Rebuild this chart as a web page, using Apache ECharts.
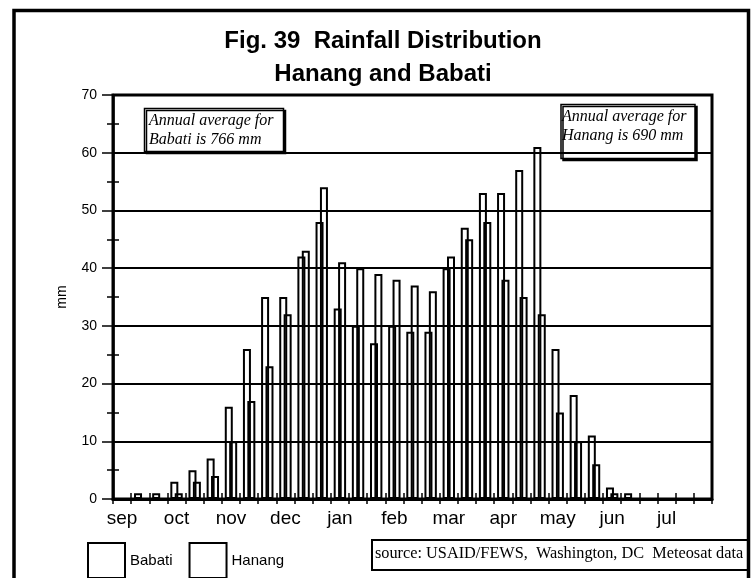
<!DOCTYPE html>
<html>
<head>
<meta charset="utf-8">
<title>Fig. 39 Rainfall Distribution</title>
<script src="https://cdn.jsdelivr.net/npm/echarts@6/dist/echarts.min.js"></script>
<style>
  html, body { margin: 0; padding: 0; background: #fff; }
  #chart { width: 751px; height: 578px; }
</style>
</head>
<body>
<div id="chart"></div>
<script>
// months shown on the x axis, each split into three dekads
const months = ['sep', 'oct', 'nov', 'dec', 'jan', 'feb', 'mar', 'apr', 'may', 'jun', 'jul']
const dekads = months.flatMap(m => [m + '-1', m + '-2', m + '-3'])

// dekadal rainfall (mm)
const babati = [0, 1, 1, 3, 5, 7, 16, 26, 35, 35, 42, 48, 33, 30, 27, 30, 29, 29,
  40, 47, 53, 53, 57, 61, 26, 18, 11, 2, 1, 0, 0, 0, 0]
const hanang = [0, 0, 0, 1, 3, 4, 10, 17, 23, 32, 43, 54, 41, 40, 39, 38, 37, 36,
  42, 45, 48, 38, 35, 32, 15, 10, 6, 1, 0, 0, 0, 0, 0]

const yTicks = [0, 10, 20, 30, 40, 50, 60, 70]

const sans = 'Liberation Sans, Arial, sans-serif'
const serif = 'Liberation Serif, Times New Roman, serif'

const chart = echarts.init(document.getElementById('chart'))

// note box with a hard drop shadow
function noteBox(x, y, w, h, lines, tx, ty) {
  return {
    type: 'group',
    children: [
      {
        type: 'rect',
        shape: { x: x, y: y, width: w, height: h },
        style: { fill: '#fff', stroke: '#000', lineWidth: 1.5, shadowColor: '#000', shadowOffsetX: 2, shadowOffsetY: 2, shadowBlur: 0 }
      },
      {
        type: 'text',
        x: tx,
        y: ty,
        style: {
          text: lines.join('\n'),
          font: 'italic 16px ' + serif,
          lineHeight: 19,
          fill: '#000'
        }
      }
    ]
  }
}

const barStyle = {
  color: 'rgba(255,255,255,0)',
  borderColor: '#000',
  borderWidth: 2
}

const options = {
  animation: false,
  backgroundColor: '#fff',
  title: {
    text: 'Fig. 39  Rainfall Distribution\nHanang and Babati',
    left: 378,
    top: 20,
    textAlign: 'center',
    textStyle: {
      fontFamily: sans,
      fontWeight: 'bold',
      fontSize: 24,
      lineHeight: 33,
      color: '#000'
    }
  },
  legend: {
    data: ['Babati', 'Hanang'],
    left: 82,
    top: 537,
    itemWidth: 37,
    itemHeight: 35,
    itemGap: 16,
    icon: 'rect',
    itemStyle: { color: '#fff', borderColor: '#000', borderWidth: 2 },
    textStyle: { fontFamily: sans, fontSize: 15, color: '#000' }
  },
  grid: {
    left: 113,
    right: 39,
    top: 95,
    bottom: 79,
    show: true,
    borderColor: '#000',
    borderWidth: 3
  },
  xAxis: [
    {
      type: 'category',
      data: dekads,
      boundaryGap: true,
      position: 'bottom',
      axisLine: { lineStyle: { color: '#000', width: 3 } },
      axisTick: { show: true, interval: 0, length: 5, lineStyle: { color: '#000', width: 1.5 } },
      axisLabel: {
        interval: 2,
        margin: 10,
        color: '#000',
        fontFamily: sans,
        fontSize: 19,
        formatter: v => v.split('-')[0]
      }
    },
    {
      // second axis only for the ticks pointing up into the plot
      type: 'category',
      data: dekads,
      boundaryGap: true,
      position: 'bottom',
      axisLine: { show: false },
      axisTick: { show: true, inside: true, interval: 0, length: 6, lineStyle: { color: '#000', width: 1.5 } },
      axisLabel: { show: false },
      splitLine: { show: false }
    }
  ],
  yAxis: [
    {
      type: 'value',
      min: yTicks[0],
      max: yTicks[yTicks.length - 1],
      interval: 10,
      name: 'mm',
      nameLocation: 'middle',
      nameGap: 44,
      nameTextStyle: { fontFamily: sans, fontSize: 14, color: '#000' },
      axisLine: { show: true, lineStyle: { color: '#000', width: 2.5 } },
      axisTick: { show: true, length: 11, lineStyle: { color: '#000', width: 1.5 } },
      minorTick: { show: true, splitNumber: 2, length: 6, lineStyle: { color: '#000', width: 1.5 } },
      axisLabel: { margin: 16, color: '#000', fontFamily: sans, fontSize: 14 },
      splitLine: { show: true, lineStyle: { color: '#000', width: 2 } }
    },
    {
      // minor ticks crossing the axis to the inside
      type: 'value',
      min: yTicks[0],
      max: yTicks[yTicks.length - 1],
      interval: 10,
      position: 'left',
      axisLine: { show: false },
      axisTick: { show: false, inside: true },
      minorTick: { show: true, splitNumber: 2, length: 6, lineStyle: { color: '#000', width: 1.5 } },
      axisLabel: { show: false },
      splitLine: { show: false }
    }
  ],
  series: [
    {
      name: 'Babati',
      type: 'bar',
      data: babati,
      barWidth: 8,
      barGap: '-45%',
      itemStyle: barStyle
    },
    {
      name: 'Hanang',
      type: 'bar',
      data: hanang,
      barWidth: 8,
      barGap: '-45%',
      itemStyle: barStyle
    }
  ],
  graphic: [
    // outer frame
    {
      type: 'rect',
      shape: { x: 14, y: 10.5, width: 734.5, height: 600 },
      style: { fill: 'none', stroke: '#000', lineWidth: 3.5 },
      z: 10
    },
    noteBox(144.5, 108.5, 139, 43, ['Annual average for', 'Babati is 766 mm'], 149, 111),
    noteBox(561, 104.5, 134, 54, ['Annual average for', 'Hanang is 690 mm'], 562, 107),
    {
      type: 'group',
      children: [
        {
          type: 'rect',
          shape: { x: 372, y: 540, width: 376, height: 30 },
          style: { fill: '#fff', stroke: '#000', lineWidth: 2 }
        },
        {
          type: 'text',
          x: 375,
          y: 546,
          style: {
            text: 'source: USAID/FEWS,  Washington, DC  Meteosat data',
            font: '16.3px ' + serif,
            fill: '#000'
          }
        }
      ]
    }
  ]
}

chart.setOption(options, true)
window.addEventListener('resize', () => {
  chart.resize()
})
</script>
</body>
</html>
